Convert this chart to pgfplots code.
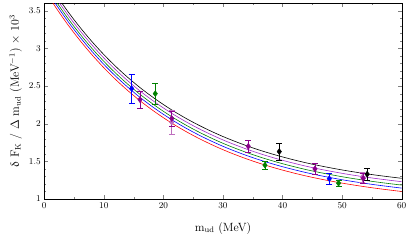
\documentclass[border=0pt]{standalone}
\usepackage{pgfplots}
\usepackage{pgfplotstable}
\usepackage{upgreek}
\pgfplotsset{compat=1.18}
\definecolor{cpurp}{RGB}{160,40,200}
\definecolor{ppurp}{RGB}{139,0,139}
\definecolor{lpurp}{RGB}{190,110,190}
\definecolor{cgreen}{RGB}{0,128,0}
\pgfplotstableread{
x black magenta green blue red
0 3.960 3.915 3.870 3.830 3.785
2 3.713 3.668 3.623 3.583 3.538
4 3.487 3.442 3.397 3.357 3.312
6 3.281 3.236 3.191 3.151 3.106
8 3.092 3.047 3.002 2.962 2.917
10 2.919 2.874 2.829 2.789 2.744
12 2.761 2.716 2.671 2.631 2.586
14 2.617 2.572 2.527 2.487 2.442
16 2.485 2.440 2.395 2.355 2.310
18 2.365 2.320 2.275 2.235 2.190
20 2.255 2.210 2.165 2.125 2.080
22 2.154 2.109 2.064 2.024 1.979
24 2.062 2.017 1.972 1.932 1.887
26 1.978 1.933 1.888 1.848 1.803
28 1.901 1.856 1.811 1.771 1.726
30 1.830 1.785 1.740 1.700 1.655
32 1.766 1.721 1.676 1.636 1.591
34 1.707 1.662 1.617 1.577 1.532
36 1.653 1.608 1.563 1.523 1.478
38 1.604 1.559 1.514 1.474 1.429
40 1.559 1.514 1.469 1.429 1.384
42 1.518 1.473 1.428 1.388 1.343
44 1.480 1.435 1.390 1.350 1.305
46 1.446 1.401 1.356 1.316 1.271
48 1.415 1.370 1.325 1.285 1.240
50 1.386 1.341 1.296 1.256 1.211
52 1.360 1.315 1.270 1.230 1.185
54 1.336 1.291 1.246 1.206 1.161
56 1.314 1.269 1.224 1.184 1.139
58 1.294 1.249 1.204 1.164 1.119
60 1.275 1.230 1.185 1.145 1.100
}\curves
\begin{document}
\begin{tikzpicture}
\begin{axis}[
  scale only axis,
  width=358bp, height=196bp,
  xmin=0, xmax=60, ymin=1, ymax=3.6,
  xtick={0,10,...,60}, minor x tick num=1,
  ytick={1,1.5,2,2.5,3,3.5}, minor y tick num=4,
  tick align=inside,
  major tick length=4bp, minor tick length=2bp,
  ticklabel style={font=\fontsize{9.5}{11}\selectfont},
  label style={font=\fontsize{12}{14}\selectfont},
  xlabel={m$_\mathrm{ud}$ (MeV)},
  ylabel={$\updelta$ F$_\mathrm{K}$ / $\Delta$ m$_\mathrm{ud}$ (MeV$^{-1}$) $\times$ 10$^3$},
  xlabel style={at={(axis description cs:0.5,-0.164)}, anchor=base},
  ylabel style={at={(axis description cs:-0.080,0.55)}, anchor=center},
  error bars/error bar style={line width=0.6pt},
  error bars/error mark options={rotate=90, mark size=3pt, line width=0.6pt},
]
\addplot[black, line width=0.6pt, smooth] table[x=x, y=black] {\curves};
\addplot[cpurp, line width=0.6pt, smooth] table[x=x, y=magenta] {\curves};
\addplot[cgreen, line width=0.6pt, smooth] table[x=x, y=green] {\curves};
\addplot[blue, line width=0.6pt, smooth] table[x=x, y=blue] {\curves};
\addplot[red, line width=0.6pt, smooth] table[x=x, y=red] {\curves};
% data points
\addplot[lpurp, only marks, mark=diamond*, mark size=3pt, error bars/.cd, y dir=both, y explicit]
  coordinates {(21.4,2.02) +- (0,0.16) (53.4,1.29) +- (0,0.07)};
\addplot[blue, only marks, mark=diamond*, mark size=3pt, error bars/.cd, y dir=both, y explicit]
  coordinates {(14.67,2.467) +- (0,0.195) (47.85,1.27) +- (0,0.07)};
\addplot[ppurp, only marks, mark=diamond*, mark size=3pt, error bars/.cd, y dir=both, y explicit]
  coordinates {(16.07,2.32) +- (0,0.11) (21.4,2.07) +- (0,0.10) (34.25,1.70) +- (0,0.075) (45.44,1.40) +- (0,0.075) (53.55,1.275) +- (0,0.06)};
\addplot[cgreen, only marks, mark=diamond*, mark size=3pt, error bars/.cd, y dir=both, y explicit]
  coordinates {(18.64,2.40) +- (0,0.14) (37.05,1.45) +- (0,0.05) (49.4,1.21) +- (0,0.035)};
\addplot[black, only marks, mark=diamond*, mark size=3pt, error bars/.cd, y dir=both, y explicit]
  coordinates {(39.45,1.63) +- (0,0.11) (54.2,1.33) +- (0,0.08)};
\end{axis}
\pgfresetboundingbox
\path ([shift={(-44.3bp,-45.7bp)}]current axis.south west) rectangle ([shift={(5.3bp,3.3bp)}]current axis.north east);
\end{tikzpicture}
\end{document}
